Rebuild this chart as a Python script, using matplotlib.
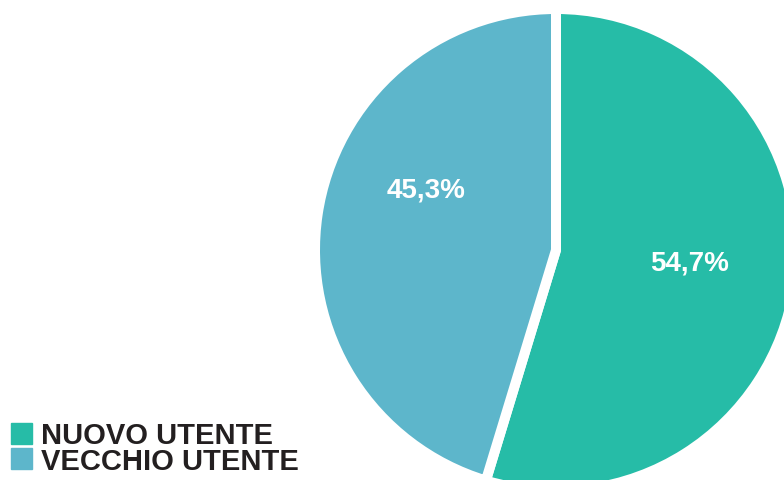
import matplotlib.pyplot as plt
import matplotlib.patches as mpatches
import numpy as np

plt.rcParams['font.family'] = ['Liberation Sans', 'DejaVu Sans']

# dati
categorie = ['NUOVO UTENTE', 'VECCHIO UTENTE']
valori = [54.7, 45.3]
colori = ['#26BCA7', '#5DB6CB']

W, H = 784, 481
fig = plt.figure(figsize=(W / 100, H / 100), dpi=100)
ax = fig.add_axes([0, 0, 1, 1])
ax.set_xlim(0, W)
ax.set_ylim(0, H)
ax.axis('off')

# torta (coordinate in pixel, y dal basso)
cx, cy, r = 556, H - 251, 241
wedges, _ = ax.pie(valori, colors=colori, startangle=90, counterclock=False,
                   center=(cx, cy), radius=r,
                   wedgeprops=dict(edgecolor='white', linewidth=7.2))
ax.set_xlim(0, W)
ax.set_ylim(0, H)
ax.set_aspect('equal')

# etichette percentuali
pos_label = [(-5.5, 0.555), (155, 0.595)]
for v, (ang, d) in zip(valori, pos_label):
    t = np.deg2rad(ang)
    ax.text(cx + d * r * np.cos(t), cy + d * r * np.sin(t),
            f"{v:.1f}%".replace('.', ','), color='white', fontsize=20,
            fontweight='bold', ha='center', va='center')

# legenda
handles = [mpatches.Patch(color=c, label=l) for c, l in zip(colori, categorie)]
fig.legend(handles=handles, loc='lower left', bbox_to_anchor=(11 / W, 5 / H),
           frameon=False, borderpad=0, borderaxespad=0,
           handlelength=0.72, handleheight=0.72, handletextpad=0.3,
           labelspacing=-0.08,
           prop=dict(size=21, weight='bold'), labelcolor='#231F20')

fig.savefig('out.png', dpi=100)
